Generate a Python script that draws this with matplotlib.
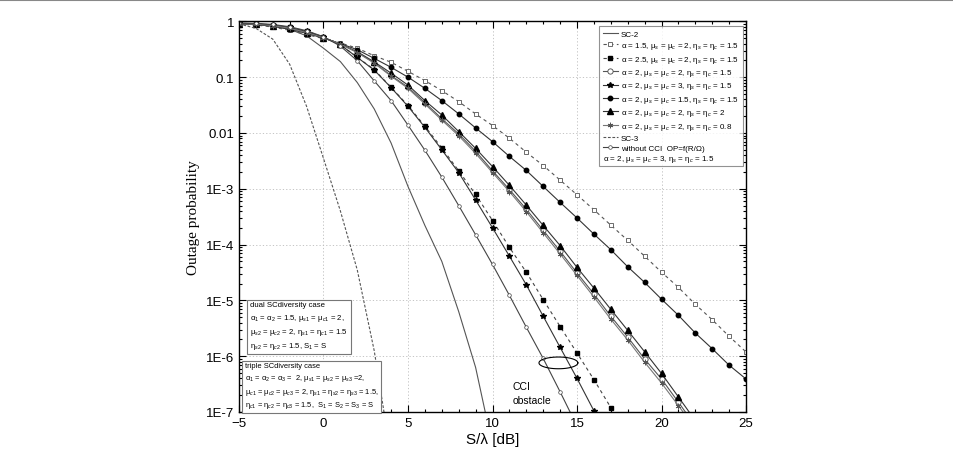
import numpy as np
import matplotlib
matplotlib.use('Agg')
import matplotlib.pyplot as plt
from matplotlib.lines import Line2D

plt.rcParams['font.family'] = ['Liberation Sans', 'DejaVu Sans']
plt.rcParams['mathtext.fontset'] = 'custom'
plt.rcParams['mathtext.rm'] = 'Liberation Sans'
plt.rcParams['mathtext.it'] = 'Liberation Sans:italic'

# S/lambda in dB, 1 dB steps
x_full = list(range(-5, 26))

# outage probabilities
sc2 = [0.93, 0.89, 0.82, 0.72, 0.55, 0.33, 0.19, 0.08, 0.027, 6.6e-3, 1.1e-3,
       2.2e-4, 5.0e-5, 6.3e-6, 6.3e-7, 2.5e-8]
sc3 = [0.9, 0.75, 0.48, 0.17, 0.03, 3.5e-3, 4.0e-4, 3.5e-5, 1.26e-6, 1.6e-8]

op_a15 = [0.89, 0.86, 0.79, 0.69, 0.58, 0.49, 0.41, 0.33, 0.242, 0.185, 0.127,
          0.0867, 0.0574, 0.0365, 0.0219, 0.0136, 8.05e-3, 4.52e-3, 2.61e-3,
          1.43e-3, 7.8e-4, 4.2e-4, 2.23e-4, 1.19e-4, 6.2e-5, 3.2e-5, 1.71e-5,
          8.5e-6, 4.5e-6, 2.27e-6, 1.19e-6]
op_a25 = [0.92, 0.91, 0.86, 0.78, 0.67, 0.52, 0.38, 0.228, 0.136, 0.066, 0.031,
          0.0132, 5.4e-3, 2.1e-3, 7.9e-4, 2.7e-4, 8.9e-5, 3.2e-5, 1.03e-5,
          3.4e-6, 1.14e-6, 3.8e-7, 1.2e-7, 4e-8]
op_mu2 = [0.9, 0.89, 0.84, 0.75, 0.63, 0.51, 0.39, 0.28, 0.182, 0.107, 0.066,
          0.035, 0.018, 9.6e-3, 4.7e-3, 2.1e-3, 9.7e-4, 4.3e-4, 1.8e-4, 7.6e-5,
          3.1e-5, 1.3e-5, 5.2e-6, 2.2e-6, 8.9e-7, 3.9e-7, 1.5e-7, 5.6e-8]
op_mu3 = [0.92, 0.91, 0.86, 0.78, 0.66, 0.52, 0.38, 0.226, 0.134, 0.065, 0.030,
          0.0126, 5.0e-3, 1.95e-3, 6.3e-4, 2.0e-4, 6.2e-5, 1.9e-5, 5.2e-6,
          1.44e-6, 4.0e-7, 1.05e-7, 2.8e-8]
op_mu15 = [0.9, 0.88, 0.82, 0.72, 0.61, 0.5, 0.40, 0.31, 0.217, 0.15, 0.1,
           0.063, 0.038, 0.022, 0.0123, 7.0e-3, 3.8e-3, 2.13e-3, 1.1e-3, 5.7e-4,
           3.0e-4, 1.54e-4, 8.1e-5, 4.0e-5, 2.1e-5, 1.05e-5, 5.4e-6, 2.6e-6,
           1.36e-6, 6.9e-7, 3.9e-7]
op_eta2 = [0.9, 0.89, 0.84, 0.75, 0.63, 0.51, 0.39, 0.285, 0.188, 0.118, 0.072,
           0.038, 0.021, 0.0106, 5.3e-3, 2.5e-3, 1.15e-3, 5.1e-4, 2.2e-4, 9.6e-5,
           3.9e-5, 1.66e-5, 6.9e-6, 2.9e-6, 1.2e-6, 4.9e-7, 1.86e-7, 7e-8]
op_eta08 = [0.9, 0.89, 0.84, 0.75, 0.63, 0.51, 0.39, 0.275, 0.178, 0.104, 0.063,
            0.033, 0.017, 8.9e-3, 4.3e-3, 1.95e-3, 8.9e-4, 3.9e-4, 1.62e-4,
            6.8e-5, 2.8e-5, 1.15e-5, 4.6e-6, 1.95e-6, 7.8e-7, 3.3e-7, 1.3e-7, 5e-8]
op_nocci = [0.93, 0.92, 0.88, 0.8, 0.68, 0.53, 0.36, 0.197, 0.086, 0.038, 0.0138,
            4.9e-3, 1.62e-3, 5.0e-4, 1.5e-4, 4.4e-5, 1.23e-5, 3.3e-6, 9.1e-7,
            2.3e-7, 5.6e-8]

y_ticks = [1e-7, 1e-6, 1e-5, 1e-4, 1e-3, 1e-2, 1e-1, 1]
y_labels = ['1E-7', '1E-6', '1E-5', '1E-4', '1E-3', '0.01', '0.1', '1']

fig = plt.figure(figsize=(9.54, 4.56), dpi=100)
ax = fig.add_axes([0.2505, 0.0943, 0.5315, 0.8567])


def xs(vals):
    return x_full[:len(vals)]


lw = 0.8
dark = '#333333'
ms = 3.2
ax.plot(xs(sc2), sc2, '-', color='#555555', lw=lw, label='SC-2')
ax.plot(xs(op_a15), op_a15, linestyle=(0, (3, 3)), color='#555555', lw=lw,
        marker='s', ms=ms, mfc='white', mec='#555555', mew=0.6,
        label='α = 1.5, μ$_s$ = μ$_c$ = 2, η$_s$ = η$_c$ = 1.5')
ax.plot(xs(op_a25), op_a25, linestyle=(0, (3, 3)), color='#444444', lw=lw,
        marker='s', ms=ms, mfc='black', mec='black',
        label='α = 2.5, μ$_s$ = μ$_c$ = 2, η$_s$ = η$_c$ = 1.5')
ax.plot(xs(op_mu2), op_mu2, '-', color='#555555', lw=lw,
        marker='o', ms=ms + 0.6, mfc='white', mec='#444444', mew=0.6,
        label='α = 2, μ$_s$ = μ$_c$ = 2, η$_s$ = η$_c$ = 1.5')
ax.plot(xs(op_mu3), op_mu3, '-', color=dark, lw=lw,
        marker='*', ms=ms + 1.2, mfc='black', mec='black',
        label='α = 2, μ$_s$ = μ$_c$ = 3, η$_s$ = η$_c$ = 1.5')
ax.plot(xs(op_mu15), op_mu15, '-', color=dark, lw=lw,
        marker='o', ms=ms, mfc='black', mec='black',
        label='α = 2, μ$_s$ = μ$_c$ = 1.5, η$_s$ = η$_c$ = 1.5')
ax.plot(xs(op_eta2), op_eta2, '-', color=dark, lw=lw,
        marker='^', ms=ms + 0.6, mfc='black', mec='black',
        label='α = 2, μ$_s$ = μ$_c$ = 2, η$_s$ = η$_c$ = 2')
ax.plot(xs(op_eta08), op_eta08, '-', color='#777777', lw=lw,
        marker=(6, 2, 0), ms=ms + 0.8, mec='#555555', mew=0.6,
        label='α = 2, μ$_s$ = μ$_c$ = 2, η$_s$ = η$_c$ = 0.8')
ax.plot(xs(sc3), sc3, linestyle=(0, (2.5, 1.5)), color='#555555', lw=lw,
        label='SC-3')
ax.plot(xs(op_nocci), op_nocci, '-', color='#444444', lw=lw,
        marker='o', ms=ms - 0.6, mfc='white', mec='#444444', mew=0.5,
        label='without CCI  OP=f(R/Ω)')
blank = Line2D([], [], linestyle='none', label=' ')

# CCI obstacle ellipse
t = np.linspace(0, 2 * np.pi, 120)
ax.plot(13.9 + 1.15 * np.cos(t), 10 ** (-6.12 + 0.105 * np.sin(t)),
        color='black', lw=0.8)
ax.text(11.2, 10 ** -6.45, 'CCI\nobstacle', fontsize=7.5, va='top',
        ha='left', linespacing=1.4)

ax.set_xlim(-5, 25)
ax.set_yscale('log')
ax.set_ylim(1e-7, 1)
ax.set_xticks(range(-5, 26, 5))
ax.set_xticks(range(-5, 26), minor=True)
ax.set_yticks(y_ticks)
ax.set_yticklabels(y_labels)
ax.tick_params(which='both', direction='in', top=True, right=True,
               labelsize=9.5, width=0.8)
ax.tick_params(which='major', length=5)
ax.tick_params(which='minor', length=2.5)
ax.grid(True, which='major', linestyle=(0, (1.5, 2.5)), color='#bbbbbb', lw=0.6)
for s in ax.spines.values():
    s.set_linewidth(1.0)

ax.set_xlabel('S/λ [dB]', fontsize=11, labelpad=2)
ax.set_ylabel('Outage probability', fontsize=11, family='Liberation Serif',
              labelpad=4)

handles, labels = ax.get_legend_handles_labels()
handles = handles[:10] + [blank]
leg = ax.legend(handles=handles, loc='upper right',
                bbox_to_anchor=(0.994, 0.988), borderaxespad=0, fontsize=5.8,
                frameon=True, fancybox=False, edgecolor='#777777',
                handlelength=1.9, handletextpad=0.4, labelspacing=0.3,
                borderpad=0.5)
leg.get_frame().set_linewidth(0.8)

# last legend line has no handle: place it at the frame's left edge
fig.canvas.draw()
fb = leg.get_frame().get_window_extent()
tb = leg.get_texts()[-1].get_window_extent()
fx = (fb.x0 + 4) / fig.bbox.width
fy = (tb.y0 + tb.y1) / 2 / fig.bbox.height
fig.text(fx, fy, 'α = 2, μ$_s$ = μ$_c$ = 3, η$_s$ = η$_c$ = 1.5',
         fontsize=5.8, va='center', ha='left', zorder=10)

box = dict(boxstyle='square,pad=0.4', fc='white', ec='#777777', lw=0.8)
ax.text(0.022, 0.283,
        'dual SCdiversity case\n'
        'α$_1$ = α$_2$ = 1.5, μ$_{s1}$ = μ$_{c1}$ = 2,\n'
        'μ$_{s2}$ = μ$_{c2}$ = 2, η$_{s1}$ = η$_{c1}$ = 1.5\n'
        'η$_{s2}$ = η$_{c2}$ = 1.5, S$_1$ = S',
        transform=ax.transAxes, fontsize=5.6, va='top', ha='left',
        bbox=box, linespacing=1.45, zorder=10)
ax.text(0.011, 0.128,
        'triple SCdiversity case\n'
        'α$_1$ = α$_2$ = α$_3$ =  2, μ$_{s1}$ = μ$_{s2}$ = μ$_{s3}$ =2,\n'
        'μ$_{c1}$ = μ$_{c2}$ = μ$_{c3}$ = 2, η$_{s1}$ = η$_{s2}$ = η$_{s3}$ = 1.5,\n'
        'η$_{c1}$ = η$_{c2}$ = η$_{c3}$ = 1.5,  S$_1$ = S$_2$ = S$_3$ = S',
        transform=ax.transAxes, fontsize=5.45, va='top', ha='left',
        bbox=box, linespacing=1.4, zorder=10)

fig.add_artist(Line2D([0, 1], [0.997, 0.997], color='#888888', lw=1.5,
                      transform=fig.transFigure))

fig.savefig('out.png', dpi=100)
